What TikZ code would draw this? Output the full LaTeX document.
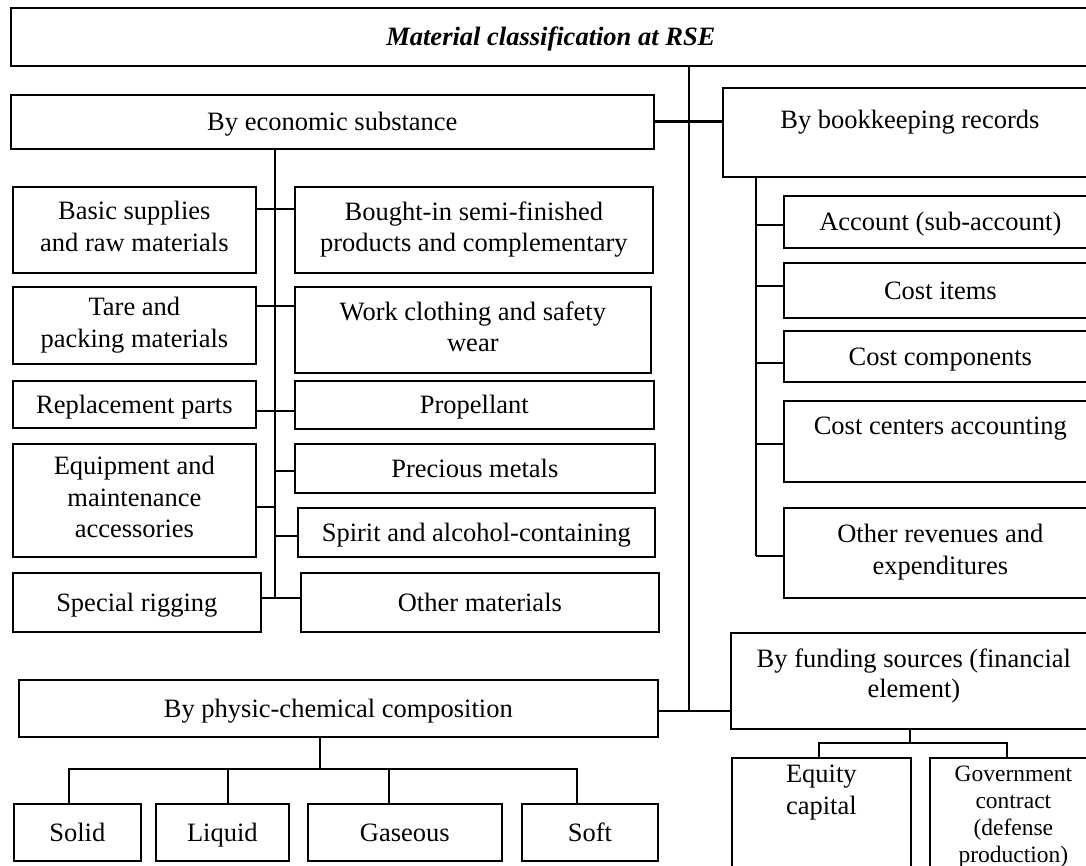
\documentclass[tikz,border=0pt]{standalone}
\usepackage{fontspec}
\setmainfont{Liberation Serif}
\newcommand{\boxstrut}{\rule[-6.5pt]{0pt}{30.5pt}}
\begin{document}
\begin{tikzpicture}[x=1pt,y=-1pt]
\tikzset{
  box/.style={draw, line width=1.7pt, rectangle, anchor=north west, inner sep=0pt, align=center,
    font=\fontsize{26.5}{31.7}\selectfont,
    execute at begin node=\boxstrut, execute at end node=\boxstrut},
  toptext/.style={anchor=north, inner sep=0pt, align=center, font=\fontsize{26.5}{31.7}\selectfont,
    execute at begin node={}, execute at end node={}},
  conn/.style={line width=1.5pt},
  thickconn/.style={line width=2.8pt},
}
\path[use as bounding box, clip] (0,0) rectangle (1086,866);
\fill[white] (0,0) rectangle (1086,866);

% title
\node[box, minimum width=1080pt, minimum height=58pt] (top) at (10,7) {\textbf{\textit{Material classification at RSE}}};

% level 1
\node[box, minimum width=643pt, minimum height=54pt] (econ) at (10,94) {By economic substance};
\node[box, minimum width=374pt, minimum height=89pt,
  label={[toptext, name=booktxt, yshift=-23pt]north:By bookkeeping records}] (book) at (722,87) {};
\node[box, minimum width=639pt, minimum height=57pt] (phys) at (18,679) {By physic-chemical composition};
\node[box, minimum width=366pt, minimum height=96pt,
  label={[toptext, name=fundtxt, yshift=-16.5pt, font=\fontsize{26.5}{30}\selectfont]north:By funding sources (financial\\element)}] (fund) at (730,632) {};

% economic substance children
\node[box, minimum width=243pt, minimum height=86pt] (basic) at (12,186) {Basic supplies\\and raw materials};
\node[box, minimum width=243pt, minimum height=77pt] (tare) at (12,286) {Tare and\\packing materials};
\node[box, minimum width=243pt, minimum height=47pt] (repl) at (12,380) {Replacement parts};
\node[box, minimum width=243pt, minimum height=113pt] (equip) at (12,443) {Equipment and\\maintenance\\accessories};
\node[box, minimum width=248pt, minimum height=59pt] (rig) at (12,572) {Special rigging};

\node[box, minimum width=358pt, minimum height=86pt] (bought) at (294,186) {Bought-in semi-finished\\products and complementary};
\node[box, minimum width=356pt, minimum height=86pt] (work) at (294,286) {Work clothing and safety\\wear};
\node[box, minimum width=359pt, minimum height=48pt] (prop) at (294,380) {Propellant};
\node[box, minimum width=360pt, minimum height=49pt] (prec) at (294,443) {Precious metals};
\node[box, minimum width=357pt, minimum height=49pt] (spirit) at (297,507) {Spirit and alcohol-containing};
\node[box, minimum width=358pt, minimum height=59pt] (other) at (300,572) {Other materials};

% bookkeeping children
\node[box, minimum width=313pt, minimum height=52pt] (acct) at (783,195) {Account (sub-account)};
\node[box, minimum width=313pt, minimum height=55pt] (items) at (783,262) {Cost items};
\node[box, minimum width=313pt, minimum height=51pt] (comp) at (783,330) {Cost components};
\node[box, minimum width=313pt, minimum height=81pt,
  label={[toptext, name=centerstxt, yshift=-17pt]north:Cost centers accounting}] (centers) at (783,400) {};
\node[box, minimum width=313pt, minimum height=90pt] (otherrev) at (783,507) {Other revenues and\\expenditures};

% physic-chemical children
\node[box, minimum width=127pt, minimum height=57pt] (solid) at (13,803) {Solid};
\node[box, minimum width=133pt, minimum height=57pt] (liquid) at (155,803) {Liquid};
\node[box, minimum width=194pt, minimum height=57pt] (gas) at (307,803) {Gaseous};
\node[box, minimum width=136pt, minimum height=57pt] (soft) at (521,803) {Soft};

% funding children
\node[box, minimum width=179pt, minimum height=133pt,
  label={[toptext, name=equitytxt, yshift=-8pt]north:Equity\\capital}] (equity) at (731,757) {};
\node[box, minimum width=167pt, minimum height=133pt,
  label={[toptext, name=govtxt, yshift=-9pt, font=\fontsize{23.5}{27}\selectfont]north:Government\\contract\\(defense\\production)}] (gov) at (929,757) {};

% coordinates
\coordinate (trunk) at (689,65);
\coordinate (ev) at (275,148);
\coordinate (bv) at (756,176);
\coordinate (pb) at (320,769);
\coordinate (fb) at (910,743);

% trunk
\draw[conn] (top.south -| trunk) -- ([yshift=-2.5pt]phys.east -| trunk);
\draw[conn] ([yshift=-2.5pt]phys.east) -- ([yshift=-2.5pt]phys.east -| fund.west);
\draw[thickconn] (econ.east) -- (econ.east -| book.west);

% economic substance tree
\draw[conn] (econ.south -| ev) -- ([yshift=4.5pt]rig.east -| ev);
\draw[conn] ([yshift=21pt]basic.east) -- ([yshift=21pt]basic.east -| bought.west);
\draw[conn] ([yshift=19.5pt]tare.east) -- ([yshift=19.5pt]tare.east -| work.west);
\draw[conn] ([yshift=-6.5pt]repl.east) -- ([yshift=-6.5pt]repl.east -| prop.west);
\draw[conn] ([yshift=-2.5pt]prec.west) -- ([yshift=-2.5pt]prec.west -| ev);
\draw[conn] ([yshift=-6.5pt]equip.east) -- ([yshift=-6.5pt]equip.east -| ev);
\draw[conn] ([yshift=-3.5pt]spirit.west) -- ([yshift=-3.5pt]spirit.west -| ev);
\draw[conn] ([yshift=4.5pt]rig.east) -- ([yshift=4.5pt]rig.east -| other.west);

% bookkeeping tree
\draw[conn] (book.south -| bv) -- ([yshift=-3pt]otherrev.west -| bv);
\draw[conn] ([yshift=-3pt]acct.west) -- ([yshift=-3pt]acct.west -| bv);
\draw[conn] ([yshift=4.5pt]items.west) -- ([yshift=4.5pt]items.west -| bv);
\draw[conn] ([yshift=-6.5pt]comp.west) -- ([yshift=-6.5pt]comp.west -| bv);
\draw[conn] ([yshift=-2.5pt]centers.west) -- ([yshift=-2.5pt]centers.west -| bv);
\draw[conn] ([yshift=-3pt]otherrev.west) -- ([yshift=-3pt]otherrev.west -| bv);

% physic-chemical tree
\draw[conn] (pb |- phys.south) -- (pb);
\draw[conn] ([xshift=-8.5pt]solid.north) |- (pb) -| ([xshift=-13pt]soft.north);
\draw[conn] ([xshift=5.5pt]liquid.north) -- ([xshift=5.5pt]liquid.north |- pb);
\draw[conn] ([xshift=-16pt]gas.north) -- ([xshift=-16pt]gas.north |- pb);

% funding tree
\draw[conn] (fb |- fund.south) -- (fb);
\draw[conn] ([xshift=-2.5pt]equity.north) |- (fb) -| ([xshift=-6.5pt]gov.north);
\end{tikzpicture}
\end{document}
